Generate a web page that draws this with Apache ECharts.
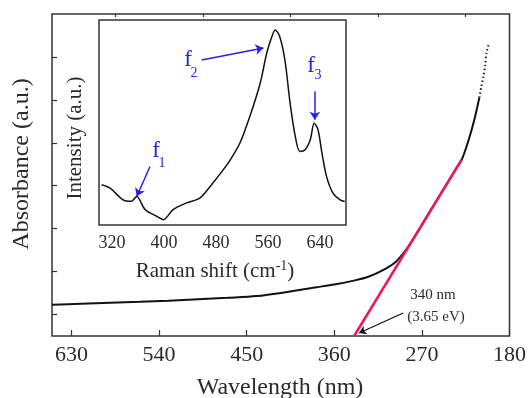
<!DOCTYPE html>
<html>
<head>
<meta charset="utf-8">
<script src="https://cdn.jsdelivr.net/npm/echarts@6/dist/echarts.min.js"></script>
<style>
  html, body { margin: 0; padding: 0; background: #fff; }
  #chart { width: 529px; height: 398px; }
</style>
</head>
<body>
<div id="chart"></div>
<script>
// absorbance spectrum (main plot), wavelength in nm
const absWl  = [650, 620, 590, 560, 530, 500, 470, 440, 410, 380, 360, 340, 325, 308, 297, 285, 275, 265, 255, 245, 235, 229, 222, 216, 211];
const absVal = [1.45, 1.50, 1.55, 1.59, 1.64, 1.71, 1.78, 1.86, 2.04, 2.26, 2.40, 2.58, 2.76, 3.12, 3.45, 4.10, 4.80, 5.55, 6.30, 7.04, 7.78, 8.22, 9.13, 10.1, 11.1];
// sparse dotted tail at the short-wavelength end
const tailWl  = [211, 209, 207, 205, 203.7, 202.5, 201.6];
const tailVal = [11.1, 11.6, 12.05, 12.6, 13.18, 13.4, 13.55];
// linear fit (band edge)
const fitWl  = [339.6, 229.4];
const fitVal = [0, 8.2];

const xLabels = [180, 270, 360, 450, 540, 630];
const xMinor  = [225, 315, 405, 495, 585];
const yTicks  = [1, 3, 5, 7, 9, 11, 13];

// Raman inset
const ramanX = [304, 317, 337, 350, 358, 371, 389, 399, 414, 435, 455, 471, 491, 502, 517, 532, 548, 558, 566, 571, 578, 586, 594, 602, 609, 617, 625, 631, 637, 643, 650, 660, 671, 678];
const ramanY = [0.79, 0.67, 0.25, 0.20, 0.37, -0.10, -0.34, -0.46, -0.10, 0.14, 0.31, 0.73, 1.32, 1.68, 2.29, 3.23, 4.42, 5.49, 6.09, 6.32, 6.09, 5.25, 3.71, 2.51, 1.98, 2.04, 2.40, 2.99, 2.75, 1.92, 1.09, 0.49, 0.25, 0.19];
const insetLabels = [320, 400, 480, 560, 640];
const insetTicks  = [320, 360, 400, 440, 480, 520, 560, 600, 640];
const insetYTicks = [0, 1, 2, 3, 4, 5, 6];

const FONT = 'Liberation Serif';
const INK = '#2b2b2b';
const BLUE = '#2323e6';

const chart = echarts.init(document.getElementById('chart'));

const blueArrow = (a, b) => [{ coord: a }, { coord: b }];

const option = {
  animation: false,
  backgroundColor: '#fff',
  grid: [
    { left: 52, top: 14, width: 458, height: 322, show: true, borderColor: '#333', borderWidth: 1.5, backgroundColor: '#fff' },
    { left: 99, top: 20, width: 247, height: 205, show: true, borderColor: '#333', borderWidth: 1.5, backgroundColor: '#fff', z: 5 }
  ],
  xAxis: [
    {
      gridIndex: 0, type: 'value', min: 180, max: 650, inverse: true,
      axisLine: { show: false },
      splitLine: { show: false },
      axisTick: { inside: true, length: 6, customValues: xLabels, lineStyle: { color: '#333', width: 1.2 } },
      axisLabel: { customValues: xLabels, margin: 8, fontFamily: FONT, fontSize: 22, color: INK }
    },
    {
      gridIndex: 0, type: 'value', min: 180, max: 650, inverse: true,
      axisLine: { show: false },
      splitLine: { show: false },
      axisTick: { inside: true, length: 3, customValues: xMinor, lineStyle: { color: '#333', width: 1.2 } },
      axisLabel: { show: false }
    },
    {
      gridIndex: 1, type: 'value', min: 300, max: 680,
      axisLine: { show: false },
      splitLine: { show: false },
      axisTick: { inside: true, length: 4, customValues: insetTicks, lineStyle: { color: '#333', width: 1.2 } },
      axisLabel: { customValues: insetLabels, margin: 9, fontFamily: FONT, fontSize: 18, color: INK }
    }
  ],
  yAxis: [
    {
      gridIndex: 0, type: 'value', min: 0, max: 15,
      axisLine: { show: false },
      splitLine: { show: false },
      axisTick: { inside: true, length: 5, customValues: yTicks, lineStyle: { color: '#333', width: 1.2 } },
      axisLabel: { show: false }
    },
    {
      gridIndex: 1, type: 'value', min: -0.65, max: 6.68,
      axisLine: { show: false },
      splitLine: { show: false },
      axisTick: { inside: true, length: 4, customValues: insetYTicks, lineStyle: { color: '#333', width: 1.2 } },
      axisLabel: { show: false }
    }
  ],
  series: [
    {
      name: 'absorbance', type: 'line', xAxisIndex: 0, yAxisIndex: 0,
      data: absWl.map((w, i) => [w, absVal[i]]),
      showSymbol: false, smooth: 0.3,
      lineStyle: { color: '#111', width: 2 },
      markLine: {
        silent: true, symbol: ['none', 'arrow'], symbolSize: 7,
        label: { show: false },
        lineStyle: { color: '#111', width: 1.2, type: 'solid' },
        data: [blueArrow([289.2, 1.07], [334.5, 0.14])]
      },
      z: 3
    },
    {
      name: 'tail', type: 'line', xAxisIndex: 0, yAxisIndex: 0,
      data: tailWl.map((w, i) => [w, tailVal[i]]),
      showSymbol: false, smooth: 0.3,
      lineStyle: { color: '#222', width: 2, type: [1.5, 2.5] },
      z: 3
    },
    {
      name: 'fit', type: 'line', xAxisIndex: 0, yAxisIndex: 0,
      data: fitWl.map((w, i) => [w, fitVal[i]]),
      showSymbol: false,
      lineStyle: { color: '#f0145a', width: 2.5 },
      z: 4
    },
    {
      name: 'raman', type: 'line', xAxisIndex: 2, yAxisIndex: 1,
      data: ramanX.map((x, i) => [x, ramanY[i]]),
      showSymbol: false, smooth: 0.3,
      lineStyle: { color: '#111', width: 1.5 },
      markLine: {
        silent: true, symbol: ['none', 'arrow'], symbolSize: 8,
        label: { show: false },
        lineStyle: { color: BLUE, width: 1.5, type: 'solid' },
        data: [
          blueArrow([378.5, 1.44], [358, 0.37]),
          blueArrow([458, 5.25], [553, 5.68]),
          blueArrow([632, 4.12], [632, 3.11])
        ]
      },
      z: 6
    }
  ],
  graphic: [
    { type: 'text', x: 280, y: 388, z: 10,
      style: { text: 'Wavelength (nm)', font: '24px "Liberation Serif"', fill: INK, align: 'center', verticalAlign: 'middle', textAlign: 'center', textVerticalAlign: 'middle' } },
    { type: 'text', x: 22, y: 164, rotation: Math.PI / 2, z: 10,
      style: { text: 'Absorbance (a.u.)', font: '24px "Liberation Serif"', fill: INK, align: 'center', verticalAlign: 'middle', textAlign: 'center', textVerticalAlign: 'middle' } },
    { type: 'text', x: 75, y: 138, rotation: Math.PI / 2, z: 10,
      style: { text: 'Intensity (a.u.)', font: '21px "Liberation Serif"', fill: INK, align: 'center', verticalAlign: 'middle', textAlign: 'center', textVerticalAlign: 'middle' } },
    { type: 'text', x: 215, y: 271, z: 10,
      style: {
        text: 'Raman shift (cm{sup|-1})', fill: INK, align: 'center', verticalAlign: 'middle', textAlign: 'center', textVerticalAlign: 'middle',
        fontFamily: FONT, fontSize: 21, lineHeight: 24,
        rich: { sup: { fontFamily: FONT, fontSize: 14, lineHeight: 14, verticalAlign: 'top', fill: INK } }
      } },
    { type: 'text', x: 433, y: 295, z: 10,
      style: { text: '340 nm', font: '15px "Liberation Serif"', fill: INK, align: 'center', verticalAlign: 'middle', textAlign: 'center', textVerticalAlign: 'middle' } },
    { type: 'text', x: 436, y: 317, z: 10,
      style: { text: '(3.65 eV)', font: '15px "Liberation Serif"', fill: INK, align: 'center', verticalAlign: 'middle', textAlign: 'center', textVerticalAlign: 'middle' } },
    { type: 'text', x: 156, y: 151, z: 10,
      style: { text: 'f', font: '23px "Liberation Serif"', fill: BLUE, align: 'center', verticalAlign: 'middle', textAlign: 'center', textVerticalAlign: 'middle' } },
    { type: 'text', x: 162, y: 163, z: 10,
      style: { text: '1', font: '14px "Liberation Serif"', fill: BLUE, align: 'center', verticalAlign: 'middle', textAlign: 'center', textVerticalAlign: 'middle' } },
    { type: 'text', x: 188, y: 60, z: 10,
      style: { text: 'f', font: '23px "Liberation Serif"', fill: BLUE, align: 'center', verticalAlign: 'middle', textAlign: 'center', textVerticalAlign: 'middle' } },
    { type: 'text', x: 194, y: 73, z: 10,
      style: { text: '2', font: '14px "Liberation Serif"', fill: BLUE, align: 'center', verticalAlign: 'middle', textAlign: 'center', textVerticalAlign: 'middle' } },
    { type: 'text', x: 311, y: 66, z: 10,
      style: { text: 'f', font: '23px "Liberation Serif"', fill: BLUE, align: 'center', verticalAlign: 'middle', textAlign: 'center', textVerticalAlign: 'middle' } },
    { type: 'text', x: 318, y: 75, z: 10,
      style: { text: '3', font: '14px "Liberation Serif"', fill: BLUE, align: 'center', verticalAlign: 'middle', textAlign: 'center', textVerticalAlign: 'middle' } }
  ]
};

chart.setOption(option);
</script>
</body>
</html>
